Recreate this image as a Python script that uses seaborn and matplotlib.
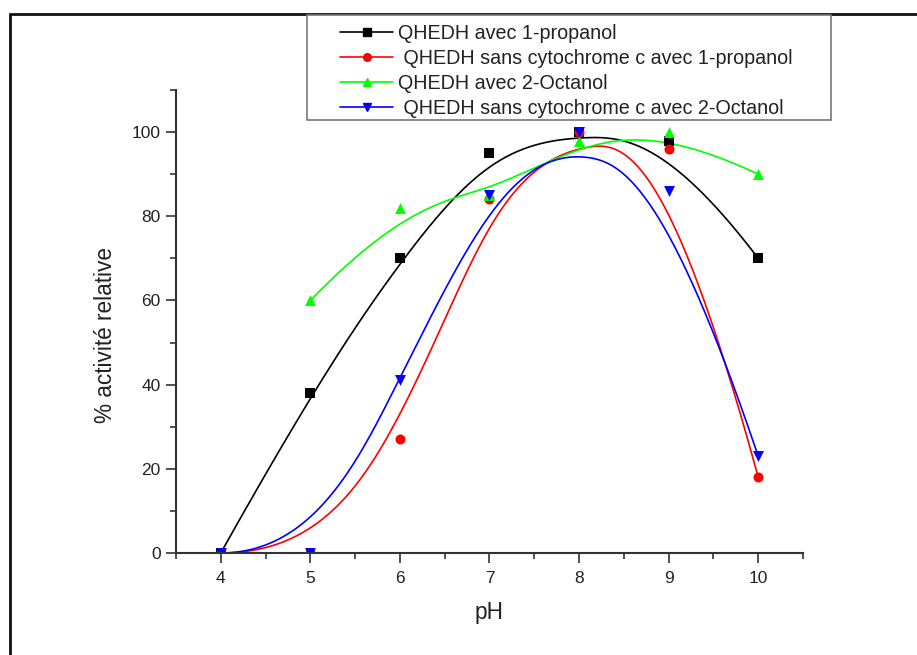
import numpy as np
import matplotlib
matplotlib.use("Agg")
import matplotlib.pyplot as plt
import seaborn as sns
from matplotlib.patches import Rectangle
from matplotlib.lines import Line2D
from matplotlib.ticker import MultipleLocator

# ---- data ----
ph = [4, 5, 6, 7, 8, 9, 10]
propanol = [0, 38, 70, 95, 100, 98, 70]
propanol_sans_cyt = [0, 0, 27, 84, 100, 96, 18]
ph_octanol = [5, 6, 7, 8, 9, 10]
octanol = [60, 82, 85, 98, 100, 90]
octanol_sans_cyt = [0, 0, 41, 85, 100, 86, 23]

labels = ["QHEDH avec 1-propanol",
          " QHEDH sans cytochrome c avec 1-propanol",
          "QHEDH avec 2-Octanol",
          " QHEDH sans cytochrome c avec 2-Octanol"]
colors = ["#000000", "#ff0000", "#00ff00", "#0000ff"]
markers = ["s", "o", "^", "v"]
sizes = [48, 52, 62, 62]

series = [(ph, propanol), (ph, propanol_sans_cyt),
          (ph_octanol, octanol), (ph, octanol_sans_cyt)]


def bspline(xs, ys, degree=3, n=400):
    """Clamped uniform B-spline using the data points as control points."""
    P = np.column_stack([xs, ys]).astype(float)
    m = len(P)
    k = min(degree, m - 1)
    inner = np.linspace(0, 1, m - k + 1)
    knots = np.concatenate([np.zeros(k), inner, np.ones(k)])
    t = np.linspace(0, 1, n)

    def basis(i, p):
        if p == 0:
            res = ((knots[i] <= t) & (t < knots[i + 1])).astype(float)
            if knots[i + 1] == 1.0 and knots[i] < 1.0:
                res[t == 1.0] = 1.0
            return res
        d1 = knots[i + p] - knots[i]
        d2 = knots[i + p + 1] - knots[i + 1]
        a = (t - knots[i]) / d1 * basis(i, p - 1) if d1 > 0 else 0.0
        b = (knots[i + p + 1] - t) / d2 * basis(i + 1, p - 1) if d2 > 0 else 0.0
        return a + b

    B = np.array([basis(i, k) for i in range(m)])
    C = B.T @ P
    return C[:, 0], C[:, 1]


sns.set_theme(style="ticks")
plt.rcParams['font.family'] = ['Liberation Sans', 'DejaVu Sans']

W, H = 917, 655
fig = plt.figure(figsize=(W / 100, H / 100), dpi=100)
ax = fig.add_axes([176 / W, 1 - 553 / H, (803 - 176) / W, (553 - 90) / H])

for (xs, ys), c, mk, s in zip(series, colors, markers, sizes):
    cx, cy = bspline(xs, ys)
    sns.lineplot(x=cx, y=cy, sort=False, estimator=None, color=c, lw=1.2,
                 ax=ax, legend=False, zorder=2)
    sns.scatterplot(x=xs, y=ys, marker=mk, color=c, s=s, linewidth=0,
                    ax=ax, legend=False, zorder=3)

ax.set_xlim(3.5, 10.5)
ax.set_ylim(0, 110)
ax.set_xticks(ph)
ax.set_yticks([0, 20, 40, 60, 80, 100])
ax.xaxis.set_minor_locator(MultipleLocator(0.5))
ax.yaxis.set_minor_locator(MultipleLocator(10))
ax.tick_params(axis='both', which='major', direction='out', length=7,
               width=1.1, color='#222222', labelsize=12.5, labelcolor='#222222')
ax.tick_params(axis='x', which='major', pad=6)
ax.tick_params(axis='y', which='major', pad=4)
ax.tick_params(axis='both', which='minor', direction='out', length=4,
               width=1.1, color='#222222')
for sp in ['top', 'right']:
    ax.spines[sp].set_visible(False)
for sp in ['left', 'bottom']:
    ax.spines[sp].set_color('#333333')
    ax.spines[sp].set_linewidth(1.5)
    ax.spines[sp].set_zorder(4)

ax.set_xlabel("pH", fontsize=16.3, color='#222222')
ax.set_ylabel("% activité relative", fontsize=16.3, color='#222222')
ax.xaxis.set_label_coords(0.5, -0.103)
ax.yaxis.set_label_coords(-0.094, 0.47)

# legend frame drawn as a separate box
fig.patches.append(Rectangle((307 / W, 1 - 120 / H), (831 - 307) / W, (120 - 15) / H,
                             transform=fig.transFigure, fill=True, facecolor='white',
                             edgecolor='#777777', linewidth=1.2, zorder=5))

handles = [Line2D([], [], color=c, marker=mk, markersize=5.5, lw=1.2)
           for c, mk in zip(colors, markers)]
leg = fig.legend(handles, labels, loc='upper left',
                 bbox_to_anchor=(340 / W, 1 - 24 / H),
                 fontsize=14.2, frameon=False, handlelength=2.7, handletextpad=0.25,
                 labelspacing=0.31, borderpad=0, borderaxespad=0)
leg.set_zorder(6)
for txt in leg.get_texts():
    txt.set_color('#222222')

# outer frame of the figure (left and top edges visible)
fig.patches.append(Rectangle((10 / W, -0.2), 1.5, 1.2 - 14 / H,
                             transform=fig.transFigure, fill=False,
                             edgecolor='#111111', linewidth=2, zorder=0))

fig.savefig("out.png", dpi=100)
